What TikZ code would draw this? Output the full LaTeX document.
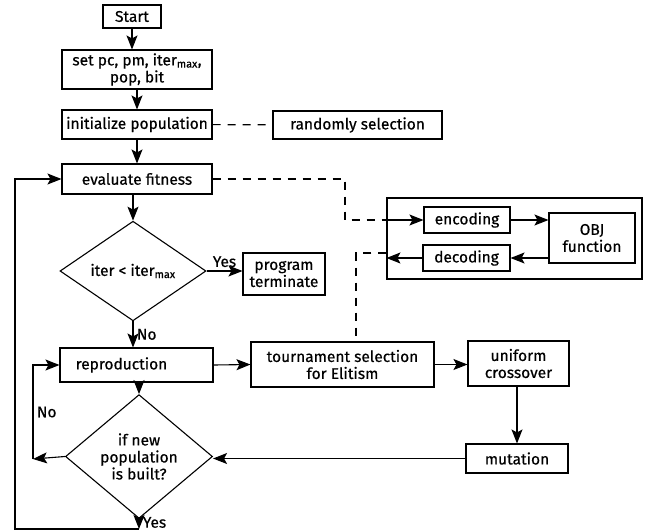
\documentclass[tikz,border=0pt]{standalone}
\usepackage{fontspec}
\setmainfont{Fira Sans}[FakeBold=0.5]
\usetikzlibrary{arrows.meta, shapes.geometric}

\begin{document}
\begin{tikzpicture}[
            x = 1pt, y = -1pt, % pixel-like units, y downwards
            > = {Stealth[length=14pt, width=11pt, inset=3pt]}, % arrow head style
            line width = 1.1pt, % line style
            font = \fontsize{15.5}{17}\selectfont
        ]

        \tikzstyle{block}=[
            draw = black,
            rectangle,
            inner sep = 1pt,
            align = center
        ]
        \tikzstyle{decision}=[
            draw = black,
            diamond,
            inner sep = 0pt,
            align = center
        ]
        \tikzstyle{link}=[dash pattern = on 8pt off 7pt]

        \useasboundingbox (0,0) rectangle (659,531);

        % main column
        \node[block, minimum width=58, minimum height=23] (start) at (132,16.5) {Start};
        \node[block, minimum width=150, minimum height=39] (setpar) at (137,69.5) {set pc, pm, iter\textsubscript{max},\\pop, bit};
        \node[block, minimum width=150, minimum height=29] (init) at (137,124.5) {initialize population};
        \node[block, minimum width=169, minimum height=28] (rand) at (357.5,125) {randomly selection};
        \node[block, minimum width=150, minimum height=30] (eval) at (137,179) {evaluate fitness};
        \node[decision, minimum width=146, minimum height=96] (iter) at (133,271) {iter < iter\textsubscript{max}};
        \node[block, minimum width=82, minimum height=42] (term) at (284,274) {program\\terminate};
        \node[block, minimum width=153, minimum height=34] (repro) at (136.5,365) {reproduction\hspace{30pt}};
        \node[decision, minimum width=147, minimum height=97] (build) at (139,456.5) {if new\\population\\is built?};

        % right part
        \node[block, minimum width=183, minimum height=45] (tour) at (342.5,364.5) {tournament selection\\for Elitism};
        \node[block, minimum width=101, minimum height=45] (cross) at (518.5,363.5) {uniform\\crossover};
        \node[block, minimum width=102, minimum height=29] (mut) at (517,458.5) {mutation};

        % evaluation box
        \node[draw, minimum width=255, minimum height=81] (outer) at (514.5,238.5) {};
        \node[block, minimum width=86, minimum height=26] (enc) at (467,220) {encoding};
        \node[block, minimum width=87, minimum height=26] (dec) at (466.5,258) {decoding};
        \node[block, minimum width=86, minimum height=50] (obj) at (592,238) {OBJ\\function};

        \coordinate (tap) at (345,179);
        \coordinate (noturn) at (33,459);
        \coordinate (bottom) at (139,529);
        \coordinate (corner) at (15,529);

        \draw[->] (start) -- (start |- setpar.north);
        \draw[->] (setpar) -- (init);
        \draw[->] (init) -- (eval);
        \draw[link] (init) -- (rand);
        \draw[->] (iter.north |- eval.south) -- (iter.north);
        \draw[->] (iter.east) -- node[above] {Yes} (iter.east -| term.west);
        \draw[->] (iter.south) -- node[right] {No} (iter.south |- repro.north);
        \draw[->] (repro.east) -- (tour.west);
        \draw[->] (tour.east) -- (tour.east -| cross.west);
        \draw[->] (cross.south -| mut.north) -- (mut.north);
        \draw[->] (mut.west) -- (mut.west -| build.east);
        \draw[->] (build.north |- repro.south) -- (build.north);
        \draw[->] (build.west) -- (noturn);
        \draw[->] (noturn) |- node[pos=0.25, right] {No} (repro.west);
        \draw[->] (build.south) -- node[right, pos=0.35, inner ysep=0pt] {Yes} (bottom);
        \draw[->] (bottom) -- (corner) |- (eval.west);

        \draw[link] (eval.east) -- (tap) |- (outer.west |- enc.west);
        \draw[->] (outer.west |- enc.west) -- (enc.west);
        \draw[->] (enc.east) -- (enc.east -| obj.west);
        \draw[->] (obj.west |- dec.east) -- (dec.east);
        \draw[->] (dec.west) -- (outer.west |- dec.west);
        \draw[link] ([yshift=-14.5pt]outer.west) -| ([xshift=13.5pt]tour.north);
    \end{tikzpicture}
\end{document}
